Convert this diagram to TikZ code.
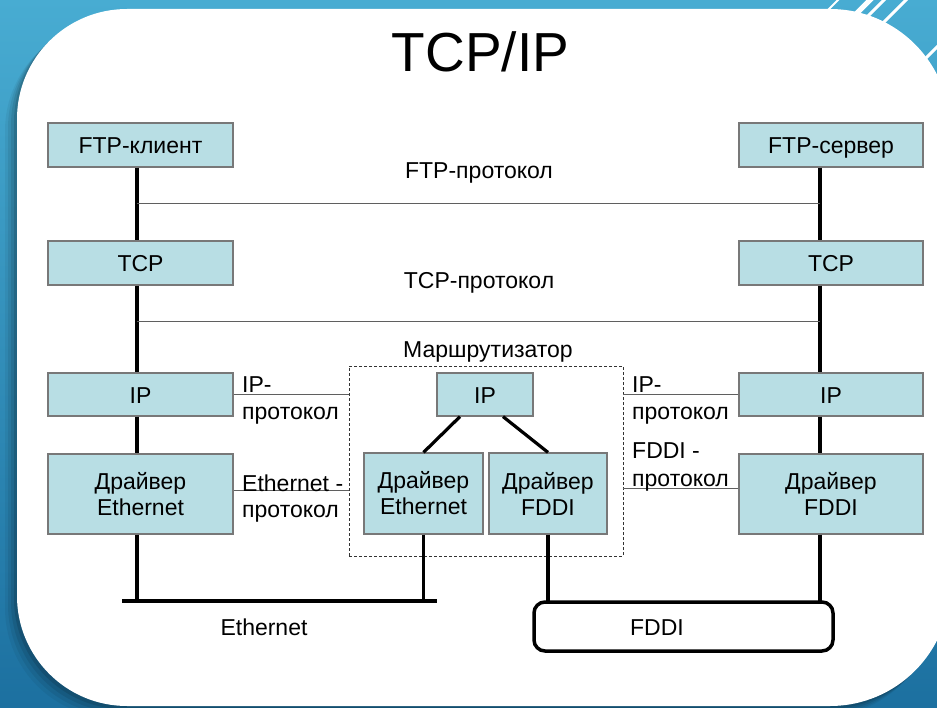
\documentclass[tikz,border=0pt]{standalone}
\usepackage{fontspec}
\setmainfont{Liberation Sans}
\definecolor{bgtop}{RGB}{72,172,210}
\definecolor{bgbot}{RGB}{28,112,160}
\definecolor{boxfill}{RGB}{184,222,228}
\definecolor{boxline}{RGB}{120,120,120}
\definecolor{protoline}{RGB}{95,95,95}
\tikzset{
  slideshape/.style={insert path={(17,119) .. controls (17,58.25) and (66.25,9) .. (127,9)
     -- (830,9) .. controls (896.3,9) and (950,62.7) .. (950,129)
     -- (950,586) .. controls (950,652.3) and (896.3,706) .. (830,706)
     -- (127,706) .. controls (66.25,706) and (17,656.75) .. (17,596) -- cycle}},
  box/.style={draw=boxline,line width=1.2pt,fill=boxfill,inner sep=0pt,
     font=\fontsize{23}{26}\selectfont,align=center,text=black},
  onebox/.style={box,text height=18pt,text depth=0pt},
  lbl/.style={inner sep=0pt,font=\fontsize{23}{26}\selectfont,text=black},
  wire/.style={draw=black,line width=3.2pt},
  bus/.style={draw=black,line width=4pt},
  proto/.style={draw=protoline,line width=1pt},
  routerbox/.style={draw=black!80,line width=0.8pt,dash pattern=on 3pt off 2pt,inner sep=0pt},
  ring/.style={draw=black,line width=3.5pt,rounded corners=11pt,inner sep=0pt,outer sep=0pt}
}
\begin{document}
\begin{tikzpicture}[x=1pt,y=-1pt]
\useasboundingbox (0,0) rectangle (937,708);
% background
\shade[top color=bgtop,bottom color=bgbot] (0,0) rectangle (937,708);
\draw[white,line width=2pt] (826,12) -- (840,-2);
\draw[white,line width=5pt] (852,18) -- (874,-4);
\draw[white,line width=3pt] (864,20) -- (886,-2);
\draw[white,line width=3pt] (876,30) -- (908,-2);
\draw[white,line width=3pt] (918,66) -- (940,44);
% shadow and slide
\foreach \o/\op in {12/0.05,9/0.07,6/0.09,3/0.12}{
  \fill[black,opacity=\op,shift={(-\o,\o)},slideshape];
}
\fill[white,slideshape];
% title
\node[inner sep=0pt,anchor=base,font=\fontsize{55}{60}\selectfont] (title) at (480.5,72) {TCP/IP};
% left stack
\node[onebox,minimum width=185pt,minimum height=44pt] (ftpc) at (140.5,145) {FTP-клиент};
\node[onebox,minimum width=185pt,minimum height=44pt] (tcpl) at (140.5,263) {TCP};
\node[onebox,minimum width=185pt,minimum height=43pt] (ipl) at (140.5,394.5) {IP};
\node[box,minimum width=185pt,minimum height=80pt] (drvl) at (140.5,494) {Драйвер\\Ethernet};
% right stack
\node[onebox,minimum width=184pt,minimum height=44pt] (ftps) at (831,145) {FTP-сервер};
\node[onebox,minimum width=184pt,minimum height=44pt] (tcpr) at (831,263) {TCP};
\node[onebox,minimum width=184pt,minimum height=43pt] (ipr) at (831,394.5) {IP};
\node[box,minimum width=184pt,minimum height=80pt] (drvr) at (831,494) {Драйвер\\FDDI};
% router
\node[routerbox,minimum width=274pt,minimum height=190pt] (router) at (486,461) {};
\node[lbl,anchor=base] (rlab) at (488,358) {Маршрутизатор};
\node[onebox,minimum width=96pt,minimum height=43pt] (rip) at (485,394.5) {IP};
\node[box,minimum width=119pt,minimum height=81pt] (reth) at (423.5,493.5) {Драйвер\\Ethernet};
\node[box,minimum width=118pt,minimum height=81pt] (rfddi) at (548,493.5) {Драйвер\\FDDI};
% networks
\coordinate (busL) at (122,601);
\coordinate (busR) at (437,601);
\draw[bus] (busL) -- (busR);
\node[lbl,anchor=base] (ethlab) at (264,635) {Ethernet};
\node[ring,minimum width=299pt,minimum height=49pt] (fddi) at (683.5,626.5) {};
\node[lbl,anchor=base] (fddilab) at (657,635) {FDDI};
% left vertical
\draw[wire] ([xshift=-3.5pt]ftpc.south) -- ([xshift=-3.5pt]tcpl.north);
\draw[wire] ([xshift=-3.5pt]tcpl.south) -- ([xshift=-3.5pt]ipl.north);
\draw[wire] ([xshift=-3.5pt]ipl.south) -- ([xshift=-3.5pt]drvl.north);
\draw[wire] ([xshift=-3.5pt]drvl.south) -- ([xshift=-3.5pt]drvl.south |- busL);
% right vertical
\draw[wire] ([xshift=-11pt]ftps.south) -- ([xshift=-11pt]tcpr.north);
\draw[wire] ([xshift=-11pt]tcpr.south) -- ([xshift=-11pt]ipr.north);
\draw[wire] ([xshift=-11pt]ipr.south) -- ([xshift=-11pt]drvr.north);
\draw[wire] ([xshift=-11pt]drvr.south) -- ([xshift=-11pt]drvr.south |- fddi.north);
% router internals
\draw[wire] ([xshift=-25pt]rip.south) -- (reth.north);
\draw[wire] ([xshift=18pt]rip.south) -- (rfddi.north);
\draw[wire] (reth.south) -- (reth.south |- busR);
\draw[wire] (rfddi.south) -- (rfddi.south |- fddi.north);
% protocol lines
\node[lbl,anchor=base] (ftpp) at (479,179) {FTP-протокол};
\coordinate (ftpL) at (137,204);
\coordinate (ftpR) at (820,204);
\draw[proto] (ftpL) -- (ftpR);
\node[lbl,anchor=base] (tcpp) at (479,289) {TCP-протокол};
\coordinate (tcpL) at (137,322);
\coordinate (tcpR) at (820,322);
\draw[proto] (tcpL) -- (tcpR);
\draw[proto] (ipl.east) -- (ipl.east -| router.west);
\draw[proto] (ipr.west) -- (ipr.west -| router.east);
\draw[proto] ([yshift=4pt]drvl.east) -- ([yshift=4pt]drvl.east -| router.west);
\draw[proto] ([yshift=6pt]drvr.west) -- ([yshift=6pt]drvr.west -| router.east);
% protocol labels
\node[lbl,anchor=base west] (ipp1) at (242,392) {IP-};
\node[lbl,anchor=base west] (ipp2) at (242,420) {протокол};
\node[lbl,anchor=base west] (ethp1) at (242,491) {Ethernet -};
\node[lbl,anchor=base west] (ethp2) at (242,517) {протокол};
\node[lbl,anchor=base west] (ipp3) at (632,392) {IP-};
\node[lbl,anchor=base west] (ipp4) at (632,420) {протокол};
\node[lbl,anchor=base west] (fddip1) at (632,458) {FDDI -};
\node[lbl,anchor=base west] (fddip2) at (632,486) {протокол};
\end{tikzpicture}
\end{document}
